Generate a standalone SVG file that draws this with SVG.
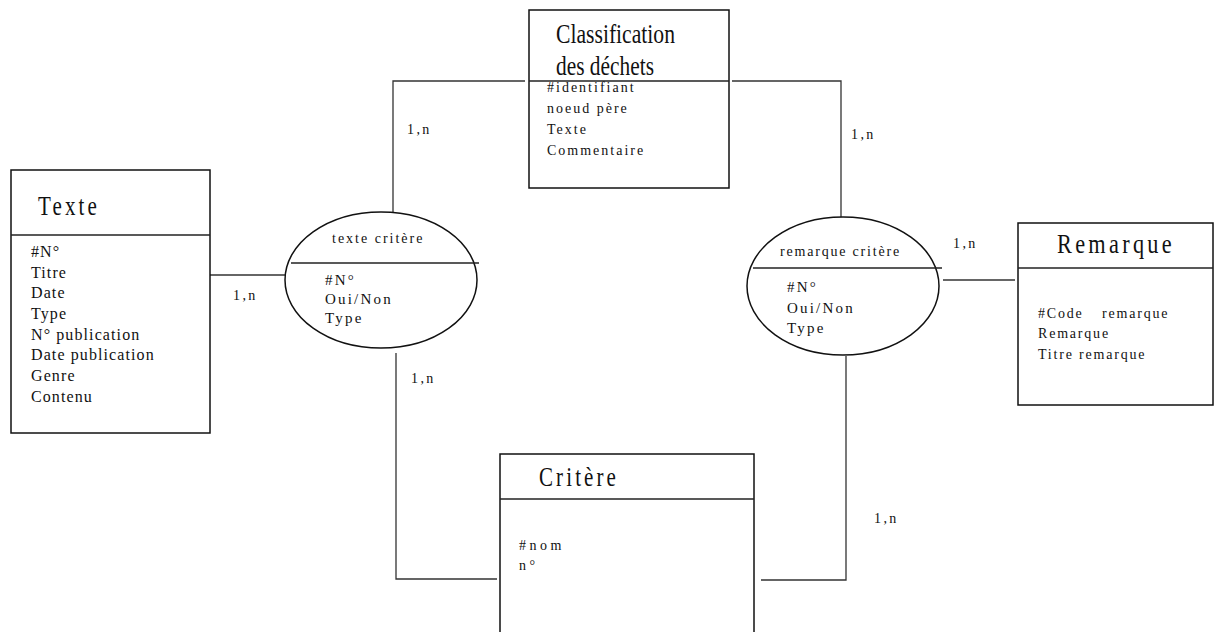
<svg xmlns="http://www.w3.org/2000/svg" width="1216" height="632" viewBox="0 0 1216 632">
<style>
.box{fill:#fff;stroke:#111;stroke-width:1.5}
.div{stroke:#222;stroke-width:1.3}
.con{fill:none;stroke:#333;stroke-width:1.3}
.t{font-family:"Liberation Serif",serif;fill:#111}
.a{font-size:14px;letter-spacing:2px}
.a15{font-size:15px;letter-spacing:2.2px}
.a16{font-size:16px;letter-spacing:1.1px}
.card{font-size:14px;letter-spacing:2.4px}
.title{font-size:27px;letter-spacing:4px}
</style>
<rect width="1216" height="632" fill="#fff"/>
<g id="connectors">
<polyline class="con" points="525,81 393,81 393,213"/>
<polyline class="con" points="732,81 841,81 841,217"/>
<line class="con" x1="210" y1="275" x2="286" y2="275"/>
<polyline class="con" points="396,353 396,579 497,579"/>
<polyline class="con" points="761,580 846,580 846,356"/>
<line class="con" x1="943" y1="280" x2="1015" y2="280"/>
<text class="t card" x="407" y="134">1,n</text>
<text class="t card" x="851" y="139">1,n</text>
<text class="t card" x="233" y="300">1,n</text>
<text class="t card" x="411" y="383">1,n</text>
<text class="t card" x="874" y="523">1,n</text>
<text class="t card" x="953" y="248">1,n</text>
</g>
<g id="classification">
<rect class="box" x="529" y="10" width="200" height="178"/>
<line class="div" x1="529" y1="81" x2="729" y2="81"/>
<text class="t" x="556" y="43" font-size="27" textLength="119" lengthAdjust="spacingAndGlyphs">Classification</text>
<text class="t" x="556" y="75" font-size="27" textLength="98" lengthAdjust="spacingAndGlyphs">des déchets</text>
<text class="t a" x="547" y="92">#identifiant</text>
<text class="t a" x="547" y="113">noeud père</text>
<text class="t a" x="547" y="134">Texte</text>
<text class="t a" x="547" y="155">Commentaire</text>
</g>
<g id="texte">
<rect class="box" x="11" y="170" width="199" height="263"/>
<line class="div" x1="11" y1="235" x2="210" y2="235"/>
<text class="t title" x="38" y="215" textLength="62" lengthAdjust="spacingAndGlyphs">Texte</text>
<text class="t a16" x="31" y="257">#N°</text>
<text class="t a16" x="31" y="278">Titre</text>
<text class="t a16" x="31" y="298">Date</text>
<text class="t a16" x="31" y="319">Type</text>
<text class="t a16" x="31" y="340">N° publication</text>
<text class="t a16" x="31" y="360">Date publication</text>
<text class="t a16" x="31" y="381">Genre</text>
<text class="t a16" x="31" y="402">Contenu</text>
</g>
<g id="texte-critere">
<ellipse class="box" cx="381" cy="280" rx="96" ry="68"/>
<line class="div" x1="291" y1="263" x2="479" y2="263"/>
<text class="t a" x="332" y="243">texte critère</text>
<text class="t a15" x="325" y="285">#N°</text>
<text class="t a15" x="325" y="304">Oui/Non</text>
<text class="t a15" x="325" y="323">Type</text>
</g>
<g id="remarque-critere">
<ellipse class="box" cx="843" cy="286" rx="96" ry="69"/>
<line class="div" x1="753" y1="268" x2="942" y2="268"/>
<text class="t" x="780" y="256" font-size="14" letter-spacing="1.8">remarque critère</text>
<text class="t a15" x="787" y="292">#N°</text>
<text class="t a15" x="787" y="313">Oui/Non</text>
<text class="t a15" x="787" y="333">Type</text>
</g>
<g id="remarque">
<rect class="box" x="1018" y="223" width="195" height="182"/>
<line class="div" x1="1018" y1="268" x2="1213" y2="268"/>
<text class="t title" x="1057" y="253" textLength="118" lengthAdjust="spacingAndGlyphs">Remarque</text>
<text class="t" x="1038" y="318" font-size="14" letter-spacing="1.8">#Code<tspan x="1102">remarque</tspan></text>
<text class="t" x="1038" y="338" font-size="14" letter-spacing="1.8">Remarque</text>
<text class="t" x="1038" y="359" font-size="14" letter-spacing="1.8">Titre remarque</text>
</g>
<g id="critere">
<rect class="box" x="500" y="454" width="254" height="200"/>
<line class="div" x1="500" y1="499" x2="754" y2="499"/>
<text class="t title" x="539" y="486" textLength="80" lengthAdjust="spacingAndGlyphs">Critère</text>
<text class="t" x="519" y="550" font-size="14" letter-spacing="3.5">#nom</text>
<text class="t" x="519" y="570" font-size="14" letter-spacing="3.5">n°</text>
</g>
</svg>
